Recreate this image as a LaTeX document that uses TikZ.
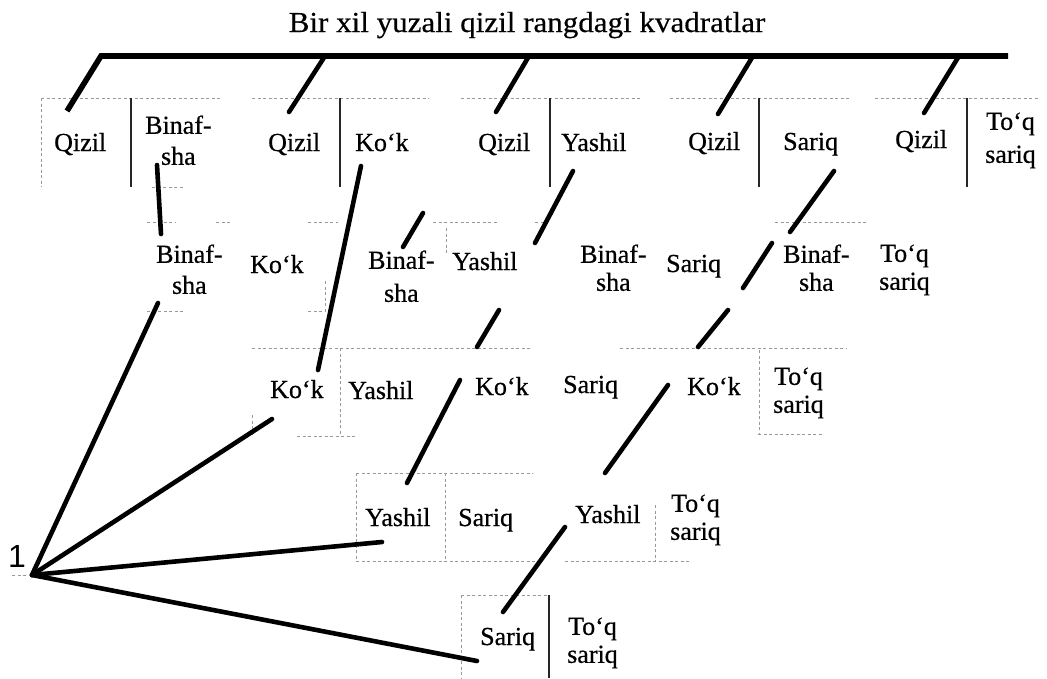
\documentclass[tikz,border=0pt]{standalone}
\usepackage{fontspec}
\setmainfont{Liberation Serif}
\newfontfamily\lblfont{Liberation Serif}[FakeBold=0.6]
\newfontfamily\titlefont{Liberation Serif}[FakeStretch=1.07,FakeBold=0.5]
\newfontfamily\sansfont{Liberation Sans}
\begin{document}
\begin{tikzpicture}[x=1pt,y=-1pt,
  lbl/.style={font=\lblfont\fontsize{26}{31}\selectfont, inner sep=0pt, anchor=base west},
  lbltwo/.style={font=\lblfont\fontsize{26}{31}\selectfont, inner sep=0pt, anchor=north west, align=center},
  lbltwos/.style={font=\lblfont\fontsize{26}{28}\selectfont, inner sep=0pt, anchor=north west, align=center},
  lbltwol/.style={font=\lblfont\fontsize{26}{33}\selectfont, inner sep=0pt, anchor=north west, align=center},
  conn/.style={line width=4.6pt, line cap=round},
  gridl/.style={draw=black!40, line width=0.8pt, dash pattern=on 3pt off 2.5pt},
  divider/.style={draw=black!85, line width=1.1pt}]
\useasboundingbox (0,0) rectangle (1047,678);

% title
\node[font=\titlefont\fontsize{29}{34}\selectfont, inner sep=0pt, anchor=base] (title) at (527,32) {Bir xil yuzali qizil rangdagi kvadratlar};

% faint box outlines
\draw[gridl] (41,98) -- (220,98) (252,98) -- (429,98) (461,98) -- (640,98) (670,98) -- (850,98) (875,98) -- (1040,98);
\draw[gridl] (41,98) -- (41,187) (152,187) -- (184,187);
\draw[gridl] (147,222) -- (176,222) (216,222) -- (230,222) (308,222) -- (338,222) (433,222) -- (497,222) (535,222) -- (545,222) (775,222) -- (867,222);
\draw[gridl] (325,281) -- (325,311) (147,311) -- (183,311) (308,311) -- (325,311) (446,228) -- (446,254);
\draw[gridl] (252,348) -- (530,348) (620,348) -- (847,348);
\draw[gridl] (340,348) -- (340,436) (252,415) -- (252,436) (297,436) -- (355,436);
\draw[gridl] (759,350) -- (759,434) (758,434) -- (823,434);
\draw[gridl] (356,473) -- (533,473) (356,473) -- (356,561) (356,561) -- (540,561) (565,561) -- (690,561) (445,473) -- (445,561) (655,505) -- (655,561);
\draw[gridl] (461,595) -- (549,595) (461,595) -- (461,678);
\draw[gridl] (12,575) -- (27,575);

% solid dividers
\draw[divider] (131,98) -- (131,187) (340,98) -- (340,187) (550,98) -- (550,187) (759,98) -- (759,187) (967,98) -- (967,187);
\draw[divider] (549,595) -- (549,678);

% row 1
\node[lbl] (q1) at (54,151) {Qizil};
\node[lbltwo] (b1) at (145,115.3) {Binaf-\\sha};
\node[lbl] (q2) at (268,151) {Qizil};
\node[lbl] (k1) at (355,151) {Ko‘k};
\node[lbl] (q3) at (478,151) {Qizil};
\node[lbl] (y1) at (561,151) {Yashil};
\node[lbl] (q4) at (688,150) {Qizil};
\node[lbl] (s1) at (783,150) {Sariq};
\node[lbl] (q5) at (895,148) {Qizil};
\node[lbltwol] (t1) at (985,112.3) {To‘q\\sariq};

% row 2
\node[lbltwo] (b2) at (156,244.3) {Binaf-\\sha};
\node[lbl] (k2) at (250,273) {Ko‘k};
\node[lbltwol] (b3) at (368,250.3) {Binaf-\\sha};
\node[lbl] (y2) at (452,270) {Yashil};
\node[lbltwos] (b4) at (580,244.3) {Binaf-\\sha};
\node[lbl] (s2) at (666,272) {Sariq};
\node[lbltwos] (b5) at (783,244.3) {Binaf-\\sha};
\node[lbltwos] (t2) at (879,244.3) {To‘q\\sariq};

% row 3
\node[lbl] (k3) at (270,398) {Ko‘k};
\node[lbl] (y3) at (348,399) {Yashil};
\node[lbl] (k4) at (475,395) {Ko‘k};
\node[lbl] (s3) at (563,393) {Sariq};
\node[lbl] (k5) at (687,395) {Ko‘k};
\node[lbltwos] (t3) at (773,367.3) {To‘q\\sariq};

% row 4
\node[lbl] (y4) at (365,526) {Yashil};
\node[lbl] (s4) at (458,526) {Sariq};
\node[lbl] (y5) at (575,523) {Yashil};
\node[lbltwos] (t4) at (670,494.3) {To‘q\\sariq};

% row 5
\node[lbl] (s5) at (480,645) {Sariq};
\node[lbltwos] (t5) at (567,617.3) {To‘q\\sariq};

% root label
\node[font=\sansfont\fontsize{32}{36}\selectfont, inner sep=0pt, anchor=base west] (one) at (8,567) {1};

% connector end points
\coordinate (bL) at (101,56);
\coordinate (bR) at (1008,56);
\coordinate (a1) at (67,111);
\coordinate (a2t) at (325,56); \coordinate (a2) at (289,112);
\coordinate (a3t) at (529,56); \coordinate (a3) at (496,112);
\coordinate (a4t) at (753,56); \coordinate (a4) at (718,114);
\coordinate (a5t) at (959,56); \coordinate (a5) at (924,113);
\coordinate (g1) at (157,165); \coordinate (g2) at (161,234);
\coordinate (h1) at (361,166); \coordinate (h2) at (318,370);
\coordinate (i1) at (423,213); \coordinate (i2) at (403,247);
\coordinate (j1) at (573,171); \coordinate (j2) at (535,243);
\coordinate (k1a) at (834,171); \coordinate (k1b) at (790,232);
\coordinate (l1) at (772,243); \coordinate (l2) at (743,288);
\coordinate (m1) at (499,310); \coordinate (m2) at (477,347);
\coordinate (n1) at (728,310); \coordinate (n2) at (698,347);
\coordinate (o1) at (460,380); \coordinate (o2) at (407,483);
\coordinate (p1) at (668,385); \coordinate (p2) at (605,473);
\coordinate (r1) at (565,527); \coordinate (r2) at (503,612);
\coordinate (root) at (32,575);
\coordinate (f1) at (158,303);
\coordinate (f2) at (272,419);
\coordinate (f3) at (382,542);
\coordinate (f4) at (477,661);

% connectors
\draw[conn, line width=5.6pt, line cap=butt, line join=miter] (a1) -- (bL) -- (bR);
\draw[conn] (a2t) -- (a2);
\draw[conn] (a3t) -- (a3);
\draw[conn] (a4t) -- (a4);
\draw[conn] (a5t) -- (a5);
\draw[conn] (g1) -- (g2);
\draw[conn] (h1) -- (h2);
\draw[conn] (i1) -- (i2);
\draw[conn] (j1) -- (j2);
\draw[conn] (k1a) -- (k1b);
\draw[conn] (l1) -- (l2);
\draw[conn] (m1) -- (m2);
\draw[conn] (n1) -- (n2);
\draw[conn] (o1) -- (o2);
\draw[conn] (p1) -- (p2);
\draw[conn] (r1) -- (r2);
\draw[conn] (root) -- (f1);
\draw[conn] (root) -- (f2);
\draw[conn] (root) -- (f3);
\draw[conn] (root) -- (f4);
\end{tikzpicture}
\end{document}
